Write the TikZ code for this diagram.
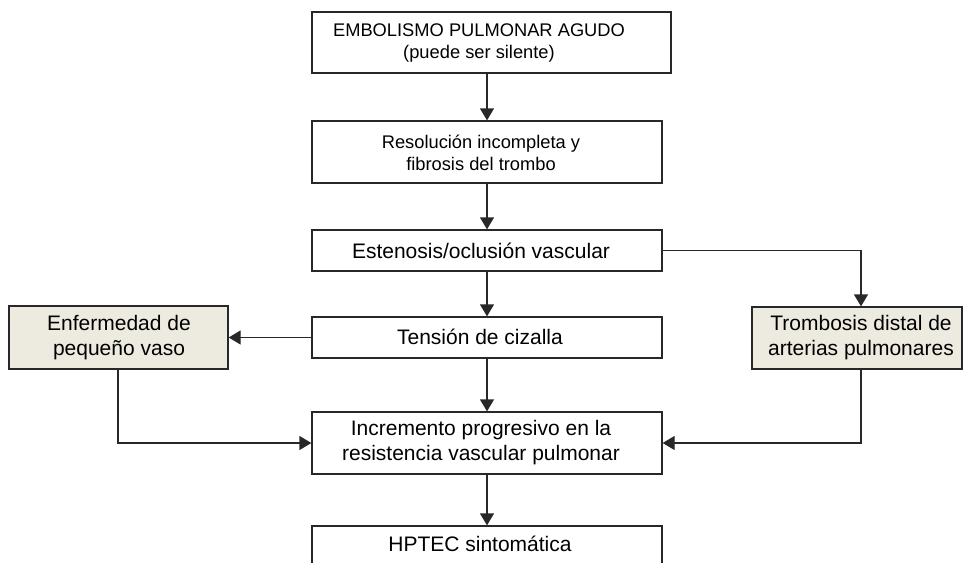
\documentclass[tikz,border=0pt]{standalone}
\usepackage{fontspec}
\setmainfont{Liberation Sans}
\usetikzlibrary{arrows.meta}
\definecolor{boxfill}{RGB}{237,235,224}
\definecolor{linec}{RGB}{40,40,40}
\begin{document}
\begin{tikzpicture}[x=1pt,y=-1pt,
  box/.style={draw=linec, line width=1.3pt, inner sep=0pt, minimum width=350pt},
  sidebox/.style={box, fill=boxfill},
  txt/.style={inner sep=0pt, align=center, text=black},
  big/.style={font=\fontsize{21}{25}\selectfont},
  small/.style={font=\fontsize{18.3}{22.5}\selectfont},
  conn/.style={draw=linec, line width=1.3pt, -{Triangle[width=14pt,length=12pt]}}]
\useasboundingbox (0,0) rectangle (963,562);
\clip (0,0) rectangle (963,562);
% boxes
\node[box, minimum width=359pt, minimum height=61pt] (b1) at (491.5,42.5) {};
\node[box, minimum height=62pt] (b2) at (487,152) {};
\node[box, minimum height=41pt] (b3) at (487,250.5) {};
\node[box, minimum height=41pt] (b4) at (487,337.5) {};
\node[box, minimum height=62pt] (b5) at (487,443) {};
\node[box, minimum height=70pt] (b6) at (487,561) {};
\node[sidebox, minimum width=219pt, minimum height=63pt] (en) at (118.5,337.5) {};
\node[sidebox, minimum width=210pt, minimum height=62pt] (tr) at (857,338) {};
% texts
\node[txt, small] (t1) at (479,43) {EMBOLISMO PULMONAR AGUDO\\(puede ser silente)};
\node[txt, small] (t2) at (481,153) {Resolución incompleta y\\fibrosis del trombo};
\node[txt, big] (t3) at (481,251) {Estenosis/oclusión vascular};
\node[txt, big] (t4) at (480,337) {Tensión de cizalla};
\node[txt, big] (t5) at (481,443) {Incremento progresivo en la\\resistencia vascular pulmonar};
\node[txt, big] (t6) at (480,544) {HPTEC sintomática};
\node[txt, big] (t7) at (119,338) {Enfermedad de\\pequeño vaso};
\node[txt, big] (t8) at (861,338) {Trombosis distal de\\arterias pulmonares};
% connectors
\coordinate (c1) at (487,0);
\draw[conn] (b1.south -| c1) -- (b2.north -| c1);
\draw[conn] (b2.south -| c1) -- (b3.north -| c1);
\draw[conn] (b3.south -| c1) -- (b4.north -| c1);
\draw[conn] (b4.south -| c1) -- (b5.north -| c1);
\draw[conn] (b5.south -| c1) -- (b6.north -| c1);
\coordinate (c2) at (861,0);
\draw[conn] (b3.east) -- (b3.east -| c2) -- (tr.north -| c2);
\draw[conn] (b4.west) -- (b4.west -| en.east);
\coordinate (c3) at (118,0);
\draw[conn] (en.south -| c3) |- (b5.west);
\draw[conn] (tr.south -| c2) |- (b5.east);
\end{tikzpicture}
\end{document}
